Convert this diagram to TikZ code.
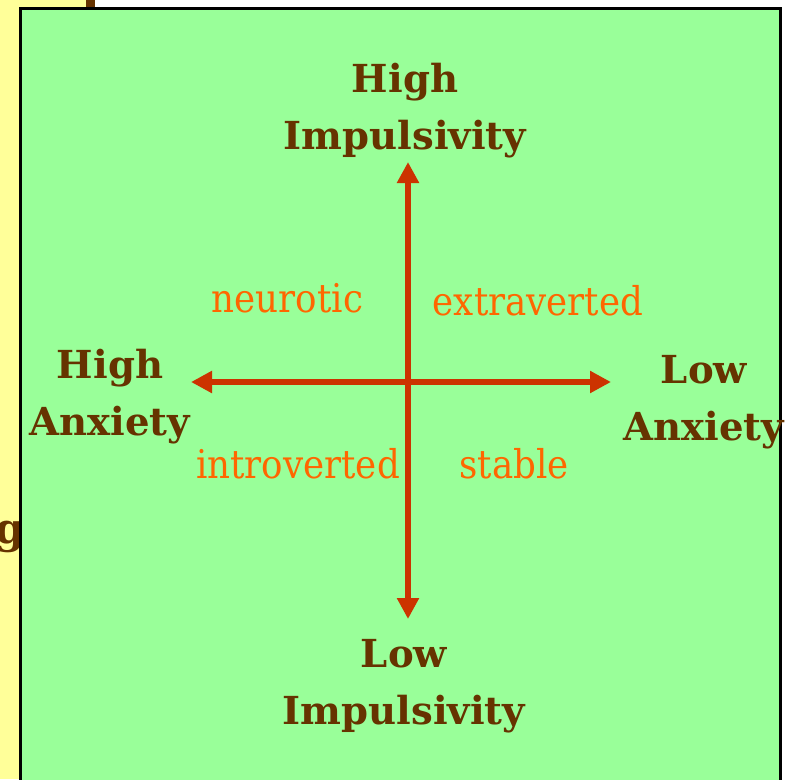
\documentclass[tikz,border=0pt]{standalone}
\usepackage{fontspec}
\setmainfont{DejaVu Serif}
\newfontfamily\orfont{DejaVu Serif}[FakeStretch=0.9]
\usetikzlibrary{arrows.meta}
\definecolor{slidegreen}{HTML}{99FF99}
\definecolor{slideyellow}{HTML}{FFFF99}
\definecolor{lblbrown}{HTML}{663300}
\definecolor{lblorange}{HTML}{FF6600}
\definecolor{axisred}{HTML}{CC3300}
\tikzset{
  axislbl/.style={text=lblbrown, font=\bfseries\fontsize{38.6}{57}\selectfont, inner sep=0pt, anchor=base},
  typelbl/.style={text=lblorange, font=\orfont\fontsize{39.6}{46}\selectfont, inner sep=0pt, anchor=base},
  axisline/.style={draw=axisred, line width=6pt, {Triangle[length=21pt,width=21pt]}-{Triangle[length=21pt,width=21pt]}},
}
\begin{document}
\begin{tikzpicture}[x=1pt,y=-1pt]
\path[use as bounding box] (0,0) rectangle (794,779);
\clip (0,0) rectangle (794,779);
\fill[white] (0,0) rectangle (794,779);
\fill[slideyellow] (0,0) rectangle (90,779);
\fill[lblbrown] (86,0) rectangle (95,9);
\node[text=lblbrown, font=\bfseries\fontsize{42}{48}\selectfont, inner sep=0pt, anchor=base east] (gfrag) at (25,543) {g};
\draw[black, line width=3pt, fill=slidegreen] (20,8) rectangle (780,800);
% axes
\coordinate (left) at (191,382);
\coordinate (right) at (611,382);
\coordinate (top) at (408,162);
\coordinate (bottom) at (408,619);
\draw[axisline] (left) -- (right);
\draw[axisline] (top) -- (bottom);
% axis labels
\node[axislbl] (hiimp) at (405,92) {\begin{tabular}[t]{@{}c@{}}High\\Impulsivity\end{tabular}};
\node[axislbl] (loimp) at (404,667) {\begin{tabular}[t]{@{}c@{}}Low\\Impulsivity\end{tabular}};
\node[axislbl] (hianx) at (110,378) {\begin{tabular}[t]{@{}c@{}}High\\Anxiety\end{tabular}};
\node[axislbl] (loanx) at (704,383) {\begin{tabular}[t]{@{}c@{}}Low\\Anxiety\end{tabular}};
% quadrant labels
\node[typelbl] (neur) at (287.5,312) {neurotic};
\node[typelbl] (extra) at (538,315) {extraverted};
\node[typelbl] (intro) at (298,478) {introverted};
\node[typelbl] (stab) at (514,478) {stable};
\end{tikzpicture}
\end{document}
